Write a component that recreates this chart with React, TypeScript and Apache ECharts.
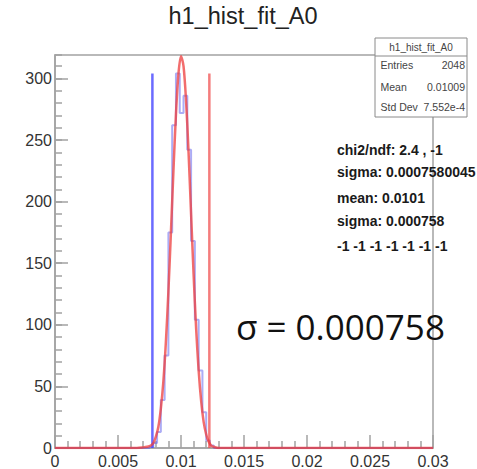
import React, { useEffect, useRef } from "react";
import * as echarts from "echarts";

// Histogram (100 bins on [0, 0.03]); only non-empty bins listed
const histFirstEdge = 0.0075;
const histBinWidth = 0.0003;
const histCounts = [1, 4, 13, 39, 75, 175, 262, 304, 272, 286, 242, 168, 104, 63, 29, 6, 2];

// Fitted curve
const fitX = [0, 0.0065, 0.007, 0.0073, 0.0076, 0.0078, 0.008, 0.0082, 0.0084, 0.0086, 0.0088, 0.009, 0.0092, 0.0094, 0.0096, 0.0098, 0.01, 0.0102, 0.0104, 0.0106, 0.0108, 0.011, 0.0112, 0.0114, 0.0116, 0.0118, 0.012, 0.0122, 0.0124, 0.0126, 0.013, 0.0135, 0.03];
const fitY = [0, 0, 0.5, 1, 2, 4, 9, 17, 32, 54, 86, 127, 175, 225, 271, 304, 318, 310, 282, 240, 190, 141, 97, 63, 38, 21, 11, 5, 2, 1, 0, 0, 0];

// Vertical marker lines
const blueLineX = 0.00773;
const redLineX = 0.01225;
const markerTop = 304;

// Axes
const xMin = 0;
const xMax = 0.03;
const xInterval = 0.005;
const yMin = 0;
const yMax = 319;
const yInterval = 50;
const yMinorInterval = 10;

// Texts
const titleText = "h1_hist_fit_A0";
const statsTitle = "h1_hist_fit_A0";
const statsNames = ["Entries", "Mean", "Std Dev"];
const statsValues = ["2048", "0.01009", "7.552e-4"];
const fitLines = [
  "chi2/ndf: 2.4 , -1",
  "sigma: 0.0007580045",
  "mean: 0.0101",
  "sigma: 0.000758",
  "-1 -1 -1 -1 -1 -1 -1",
];
const bigText = "σ = 0.000758";

export default function App() {
  const ref = useRef<HTMLDivElement>(null);

  useEffect(() => {
    document.body.style.margin = "0";
    if (!ref.current) return;
    const chart = echarts.init(ref.current, undefined, { renderer: "svg" });

    const histData: number[][] = [[xMin, 0]];
    histCounts.forEach((c, i) => histData.push([histFirstEdge + i * histBinWidth, c]));
    histData.push([histFirstEdge + histCounts.length * histBinWidth, 0]);
    histData.push([xMax, 0]);

    const fitData = fitX.map((x, i) => [x, fitY[i]]);

    const frameColor = "#a2a2a2";
    const labelFont = {
      fontSize: 16,
      fontFamily: "Liberation Sans, Arial, sans-serif",
      color: "#333",
    };

    const statsRowsY = [65, 86.5, 107];
    const fitRowsY = [149.5, 172, 198, 220.5, 246];

    const graphics: any[] = [
      {
        type: "text",
        x: 243,
        y: 16,
        style: {
          text: titleText,
          fontSize: 23.5,
          fontFamily: "Liberation Sans, Arial, sans-serif",
          fill: "#222",
          textAlign: "center",
          textVerticalAlign: "middle",
        },
      },
      {
        type: "rect",
        shape: { x: 375, y: 38, width: 92, height: 79 },
        style: { fill: "#fff", stroke: "#8a8a8a", lineWidth: 1 },
      },
      {
        type: "line",
        shape: { x1: 375, y1: 56, x2: 467, y2: 56 },
        style: { stroke: "#8a8a8a", lineWidth: 1 },
      },
      {
        type: "text",
        x: 421,
        y: 47,
        style: {
          text: statsTitle,
          fontSize: 10,
          fontFamily: "Liberation Sans, Arial, sans-serif",
          fill: "#444",
          textAlign: "center",
          textVerticalAlign: "middle",
        },
      },
      ...statsNames.map((n, i) => ({
        type: "text",
        x: 380.5,
        y: statsRowsY[i],
        style: {
          text: n,
          fontSize: 10.5,
          fontFamily: "Liberation Sans, Arial, sans-serif",
          fill: "#444",
          textAlign: "left",
          textVerticalAlign: "middle",
        },
      })),
      ...statsValues.map((v, i) => ({
        type: "text",
        x: 465,
        y: statsRowsY[i],
        style: {
          text: v,
          fontSize: 10.5,
          fontFamily: "Liberation Sans, Arial, sans-serif",
          fill: "#444",
          textAlign: "right",
          textVerticalAlign: "middle",
        },
      })),
      ...fitLines.map((t, i) => ({
        type: "text",
        x: 337,
        y: fitRowsY[i],
        style: {
          text: t,
          fontSize: 14,
          fontWeight: "bold",
          fontFamily: "Liberation Sans, Arial, sans-serif",
          fill: "#1a1a1a",
          textAlign: "left",
          textVerticalAlign: "middle",
        },
      })),
      {
        type: "text",
        x: 236,
        y: 326,
        style: {
          text: bigText,
          fontSize: 35,
          fontFamily: "Open Sans, Noto Sans, sans-serif",
          fill: "#111",
          textAlign: "left",
          textVerticalAlign: "middle",
        },
      },
    ];

    chart.setOption({
      animation: false,
      backgroundColor: "#fff",
      grid: {
        left: 55,
        right: 44,
        top: 55,
        bottom: 21,
        show: true,
        borderColor: frameColor,
        borderWidth: 1.5,
        backgroundColor: "transparent",
      },
      xAxis: {
        type: "value",
        min: xMin,
        max: xMax,
        interval: xInterval,
        axisLine: { show: true, lineStyle: { color: frameColor, width: 1.5 } },
        axisTick: { show: true, inside: true, length: 13, lineStyle: { color: frameColor, width: 1.5 } },
        minorTick: { show: true, splitNumber: 5, length: 7, lineStyle: { color: frameColor, width: 1.5 } },
        splitLine: { show: false },
        axisLabel: {
          ...labelFont,
          margin: 5,
          formatter: (v: number) => String(parseFloat(v.toFixed(4))),
        },
      },
      yAxis: [
        {
          type: "value",
          min: yMin,
          max: yMax,
          interval: yInterval,
          axisLine: { show: true, lineStyle: { color: frameColor, width: 1.5 } },
          axisTick: { show: true, inside: true, length: 13, lineStyle: { color: frameColor, width: 1.5 } },
          splitLine: { show: false },
          axisLabel: {
            ...labelFont,
            margin: 3,
            showMaxLabel: false,
            formatter: (v: number) => (Math.abs(v % yInterval) < 1e-9 ? String(v) : ""),
          },
        },
        {
          type: "value",
          min: yMin,
          max: yMax,
          interval: yMinorInterval,
          position: "left",
          axisLine: { show: false },
          axisTick: { show: true, inside: true, length: 7, lineStyle: { color: frameColor, width: 1.5 } },
          splitLine: { show: false },
          axisLabel: { show: false },
        },
      ],
      graphic: graphics,
      series: [
        {
          type: "line",
          data: histData,
          step: "end",
          symbol: "none",
          lineStyle: { color: "rgba(90,90,235,0.5)", width: 2 },
          z: 2,
        },
        {
          type: "line",
          data: [[blueLineX, 0], [blueLineX, markerTop]],
          symbol: "none",
          lineStyle: { color: "rgba(70,70,255,0.8)", width: 2.5 },
          z: 3,
        },
        {
          type: "line",
          data: [[redLineX, 0], [redLineX, markerTop]],
          symbol: "none",
          lineStyle: { color: "rgba(240,80,80,0.75)", width: 2.5 },
          z: 3,
        },
        {
          type: "line",
          data: fitData,
          smooth: 0.3,
          symbol: "none",
          lineStyle: { color: "rgba(238,60,60,0.75)", width: 2.5 },
          z: 4,
        },
      ],
    });

    return () => chart.dispose();
  }, []);

  return <div ref={ref} style={{ width: 477, height: 469 }} />;
}
